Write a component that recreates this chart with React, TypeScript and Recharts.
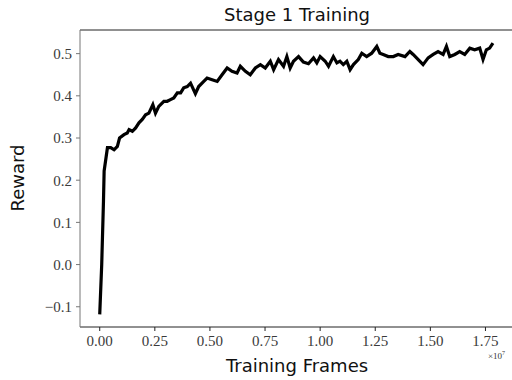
import React from 'react';
import { LineChart, Line, XAxis, YAxis, ReferenceLine } from 'recharts';

// training frames, in units of 1e7
const frames = [
  0.0, 0.009, 0.017, 0.02, 0.035, 0.05, 0.065, 0.08, 0.09, 0.11, 0.125, 0.133, 0.148, 0.163, 0.178,
  0.193, 0.208, 0.223, 0.241, 0.253, 0.268, 0.291, 0.306, 0.321, 0.336, 0.352, 0.367, 0.381, 0.397,
  0.412, 0.434, 0.449, 0.472, 0.487, 0.51, 0.533, 0.555, 0.578, 0.6, 0.623, 0.638, 0.661, 0.683,
  0.706, 0.729, 0.751, 0.774, 0.789, 0.811, 0.834, 0.849, 0.864, 0.879, 0.902, 0.924, 0.947, 0.97,
  0.985, 1.0, 1.023, 1.038, 1.06, 1.076, 1.09, 1.105, 1.121, 1.136, 1.151, 1.173, 1.189, 1.211,
  1.234, 1.257, 1.271, 1.286, 1.309, 1.332, 1.354, 1.385, 1.407, 1.422, 1.445, 1.467, 1.49, 1.513,
  1.535, 1.558, 1.573, 1.588, 1.611, 1.633, 1.656, 1.679, 1.701, 1.724, 1.739, 1.754, 1.769, 1.784,
];

const reward = [
  -0.118, 0.0, 0.15, 0.222, 0.277, 0.277, 0.272, 0.28, 0.3, 0.308, 0.312, 0.32, 0.316, 0.324, 0.336,
  0.344, 0.355, 0.359, 0.379, 0.359, 0.375, 0.387, 0.387, 0.391, 0.395, 0.407, 0.407, 0.419, 0.422,
  0.43, 0.405, 0.422, 0.434, 0.442, 0.438, 0.434, 0.45, 0.466, 0.458, 0.454, 0.47, 0.458, 0.45,
  0.466, 0.474, 0.466, 0.482, 0.462, 0.486, 0.47, 0.493, 0.466, 0.482, 0.493, 0.48, 0.476, 0.49,
  0.478, 0.493, 0.482, 0.47, 0.493, 0.478, 0.482, 0.474, 0.482, 0.462, 0.474, 0.486, 0.501, 0.493,
  0.501, 0.517, 0.501, 0.498, 0.493, 0.493, 0.498, 0.493, 0.505, 0.498, 0.486, 0.474, 0.49, 0.498,
  0.505, 0.498, 0.517, 0.493, 0.498, 0.505, 0.498, 0.513, 0.509, 0.513, 0.486, 0.509, 0.513, 0.525,
];

const xTicks = [0, 0.25, 0.5, 0.75, 1.0, 1.25, 1.5, 1.75];
const yTicks = [-0.1, 0.0, 0.1, 0.2, 0.3, 0.4, 0.5];

const data = frames.map((f, i) => ({ frames: f, reward: reward[i] }));

const serif = '"Liberation Serif", "DejaVu Serif", serif';
const sans = '"DejaVu Sans", "Open Sans", sans-serif';
const yMax = 0.556;

const App: React.FC = () => {
  return (
    <div
      style={{
        position: 'fixed',
        left: 0,
        top: 0,
        width: 512,
        height: 380,
        overflow: 'hidden',
        background: '#fff',
        fontFamily: serif,
      }}
    >
      <LineChart width={520} height={380} data={data} margin={{ top: 30, right: 6, left: 0, bottom: 0 }}>
        <XAxis
          dataKey="frames"
          type="number"
          domain={[-0.0895, 1.8795]}
          ticks={xTicks}
          tickFormatter={(v: number) => v.toFixed(2)}
          height={53}
          tickSize={4}
          tickMargin={4}
          stroke="#222"
          tick={{ fill: '#3a3a3a', fontSize: 15, fontFamily: serif, style: { fontFamily: serif } }}
          allowDataOverflow
        />
        <YAxis
          type="number"
          domain={[-0.148, yMax]}
          ticks={yTicks}
          tickFormatter={(v: number) => (v < 0 ? '\u2212' + Math.abs(v).toFixed(1) : v.toFixed(1))}
          width={80}
          tickSize={4}
          tickMargin={4}
          stroke="#777"
          tick={{ fill: '#3a3a3a', fontSize: 15, fontFamily: serif, style: { fontFamily: serif } }}
          allowDataOverflow
        />
        <ReferenceLine y={yMax} stroke="#222" strokeWidth={1} ifOverflow="visible" />
        <Line
          type="linear"
          dataKey="reward"
          stroke="#000"
          strokeWidth={3.2}
          dot={false}
          isAnimationActive={false}
        />
      </LineChart>
      <div style={{ position: 'absolute', left: 80, width: 434, top: 4, textAlign: 'center', fontFamily: sans, fontSize: 18, color: '#111' }}>
        Stage 1 Training
      </div>
      <div style={{ position: 'absolute', left: 80, width: 434, top: 355, textAlign: 'center', fontFamily: sans, fontSize: 18, color: '#111' }}>
        Training Frames
      </div>
      <div
        style={{
          position: 'absolute',
          left: 17,
          top: 178,
          transform: 'translate(-50%, -50%) rotate(-90deg)',
          fontFamily: sans,
          fontSize: 18,
          color: '#111',
          whiteSpace: 'nowrap',
        }}
      >
        Reward
      </div>
      <div style={{ position: 'absolute', left: 488, top: 350, fontFamily: serif, fontSize: 9, color: '#333' }}>
        ×10<sup style={{ fontSize: 6 }}>7</sup>
      </div>
    </div>
  );
};

export default App;
